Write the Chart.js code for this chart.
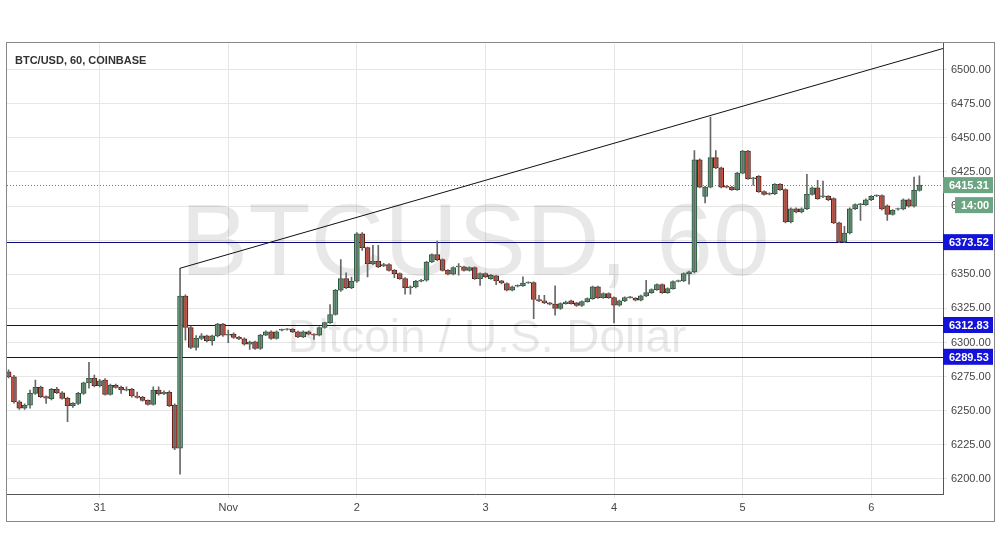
<!DOCTYPE html>
<html>
<head>
<meta charset="utf-8">
<script src="https://cdn.jsdelivr.net/npm/chart.js@4.4.1/dist/chart.umd.min.js"></script>
<style>
  body { margin: 0; background: #fff; }
  #wrap { position: absolute; left: 7px; top: 33px; width: 987px; height: 488px; }
  #frame { position: absolute; left: 6px; top: 42px; width: 987px; height: 478px; border: 1px solid #888; }
</style>
</head>
<body>
<div id="frame"></div>
<div id="wrap"><canvas id="btcChart"></canvas></div>
<script>
// hourly candles, index 0 = Oct 30 07:00
var opens = [6278.6,6274.9,6256.6,6251.8,6254,6262.7,6267.1,6260.3,6258.8,6265.7,6263.2,6259.1,6253.7,6255.4,6262.7,6270.5,6273.7,6268.4,6272.5,6262,
  6268.6,6267.1,6265,6265.7,6260.8,6259.8,6257.6,6254.7,6265.2,6262.3,6263.5,6254.2,6222.5,6334,6311,6296.4,6303,6304.9,6301.3,6304.9,
  6313.5,6305.4,6306.2,6303.7,6302.7,6298.8,6300.5,6295.6,6305.4,6307.8,6302.9,6309,6309.5,6309.7,6307.8,6304.1,6307.8,6306.1,6305.4,6311,
  6314.6,6320.5,6338.3,6346.8,6340.2,6344.9,6379.7,6369.5,6357.8,6359.5,6356.1,6357.1,6352.9,6350.5,6346.8,6340.2,6340.7,6344.9,6345.6,6359,
  6364.4,6360.7,6352.9,6350,6355.4,6355.4,6352.9,6354.9,6346.8,6350.5,6346.8,6348.8,6345.1,6343.2,6338.3,6341.3,6341.5,6343.6,6343.9,6331.5,
  6330.5,6329,6328.1,6324.9,6328.5,6330.5,6329,6327.1,6330,6332.2,6340.7,6332.9,6335.8,6332.9,6327.3,6330.5,6332.9,6332.4,6331,6334.2,
  6336.6,6338.8,6342.4,6336.6,6339.5,6344.8,6345.1,6350.5,6351.7,6433.9,6407.1,6413.9,6435.4,6428,6414.2,6413.9,6412,6424.1,6440.2,6420,
  6421.7,6410.5,6408.7,6409,6415.9,6412,6388.3,6398,6395.6,6398,6408.5,6413.4,6406.8,6407.1,6405.4,6387.6,6373.7,6380.2,6398,6401,
  6401,6404.6,6407.4,6407.6,6400.2,6393.9,6397.6,6397.8,6404.6,6399.8,6411.5];
var highs = [6280,6276,6257.5,6255,6265.2,6272.5,6268,6261,6266.5,6267.1,6264,6260,6256,6263.5,6271,6285.4,6276.2,6273,6273.5,6269.5,
  6269.5,6268,6267.6,6266.5,6263.7,6260.5,6258,6267.6,6267.6,6264.5,6264.5,6255,6354.4,6335,6312,6305,6306.6,6305.5,6305.5,6314,
  6314,6309.1,6307,6304.5,6303.5,6301,6301,6306,6308.5,6308.5,6308.5,6309.8,6310.2,6310.2,6308.3,6308.5,6308.5,6306.6,6311.5,6315,
  6327.8,6339,6360.7,6351,6348,6380.5,6380.5,6370,6371.2,6371.2,6358,6357.8,6353.5,6351,6347.5,6341.5,6345.5,6346.2,6359.5,6365,
  6374.4,6361.3,6353.5,6355.5,6357.8,6356,6355.5,6355.5,6351,6351,6350,6349.3,6345.6,6343.8,6341.3,6342.2,6348.1,6344.5,6344.5,6334.6,
  6334.6,6329.5,6341.5,6329,6330.3,6331,6329.5,6330.5,6332.8,6341.3,6341.3,6336.4,6336.4,6333.5,6331,6333.5,6333.8,6333,6334.8,6345.6,
  6339.4,6343,6343,6340.1,6345.2,6345.7,6351.1,6352.3,6440.7,6434.5,6414.5,6465.1,6440.7,6428.6,6415,6414.5,6424.7,6440.8,6440.8,6421.1,
  6422.3,6411.1,6409.6,6416.5,6416.5,6412.6,6398.6,6398.6,6398.6,6423.2,6414,6418.8,6418.3,6407.7,6406,6388.2,6385.1,6398.6,6401.6,6401.9,
  6405.2,6407.7,6408.2,6408.2,6400.8,6397.4,6398.4,6405.2,6405.2,6421.2,6422.2];
var lows = [6274,6255.5,6251,6251,6251.8,6262,6259.5,6255.4,6258,6262.5,6258.5,6242,6252.5,6254.5,6262,6266.5,6267.5,6267.5,6261.5,6261.5,
  6266.5,6262.7,6264.5,6260,6259.3,6257,6254,6254,6261.5,6261.8,6253,6221.5,6203.5,6301.8,6295.5,6294.4,6302,6300.5,6298.1,6304,
  6304.5,6299.8,6303,6302,6298,6295,6295,6295,6305,6302.2,6302.5,6308.5,6309,6307.2,6303.5,6303.5,6305.5,6302.2,6304.8,6310.5,
  6314,6320,6337.5,6339.5,6339.5,6344,6367.5,6348,6357,6354.8,6355.5,6352.3,6347.5,6346.2,6335.4,6335.4,6340,6344.3,6345,6358.5,
  6360,6352.3,6349.5,6349.5,6349.3,6352.3,6352.3,6346.2,6341.9,6347.5,6346.2,6342.4,6343,6337.8,6337.8,6340.8,6341,6343.2,6317.5,6330,
  6328.5,6327.6,6320,6324.3,6328,6328,6326.5,6326.5,6329.5,6331.6,6332.3,6332.3,6332.3,6314.4,6326.7,6330,6332.4,6330.4,6330.4,6333.6,
  6336,6338.2,6336,6336,6339,6344.3,6344.5,6342.7,6351,6413.3,6402.2,6413.3,6427.4,6413.3,6413.3,6411.4,6411.4,6423.5,6419.4,6415.1,
  6409.9,6407.9,6408.1,6408.4,6411.4,6387.7,6387.7,6395,6395,6397.4,6407.9,6404.8,6406.2,6404,6387,6373.1,6373.1,6379.6,6397.4,6389.5,
  6400.4,6404,6406.8,6397.2,6389.5,6393.3,6397,6397.2,6399.2,6399.2,6410.9];
var closes = [6274.9,6256.6,6251.8,6254,6262.7,6267.1,6260.3,6259.3,6265.7,6263.2,6259.1,6253.7,6255.4,6262.7,6270.5,6273.7,6268.4,6272,6262,6268.6,
  6267.1,6265.2,6265.4,6260.8,6259.8,6257.6,6254.7,6265.2,6262.3,6263.5,6253.7,6222.5,6334,6311,6296.4,6303,6304.9,6301.3,6304.9,6313.5,
  6305.4,6305.9,6303.7,6302.7,6298.8,6300.3,6295.6,6305.4,6307.8,6302.9,6307.8,6309.3,6309.8,6307.8,6304.1,6307.8,6306.1,6305.4,6311,6314.6,
  6320.5,6338.3,6346.8,6340.2,6344.9,6379.7,6369.5,6357.8,6359.5,6355.4,6357.1,6352.9,6350.5,6346.8,6340.2,6340.7,6344.9,6345.6,6359,6364.4,
  6360.7,6352.9,6350,6354.9,6355.6,6352.9,6354.9,6346.8,6350.5,6348,6349.3,6345.1,6343.6,6338.3,6340.7,6341.7,6343.6,6343.9,6331.5,6330.5,
  6329,6328.1,6324.9,6328.5,6329.7,6328.5,6327.1,6330,6332.2,6340.7,6332.9,6335.8,6332.9,6327.3,6330.5,6332.9,6333.2,6331,6334.2,6336.6,
  6338.8,6342.4,6336.6,6339.5,6344.6,6345.1,6350.5,6351.7,6433.9,6413.9,6413.9,6435.4,6428,6413.9,6413.9,6412,6424.1,6440.2,6420,6420.5,
  6410.5,6408.5,6409,6415.9,6412,6388.3,6398,6395.6,6398,6408.5,6413.4,6405.4,6407.1,6404.6,6387.6,6373.7,6380.2,6398,6401,6401.3,
  6404.6,6407.1,6407.6,6397.8,6393.9,6396.8,6397.8,6404.6,6399.8,6411.5,6415.31];

var dayTicks = [17, 41, 65, 89, 113, 137, 161];
var dayLabels = ["31", "Nov", "2", "3", "4", "5", "6"];
var priceTicks = [6200, 6225, 6250, 6275, 6300, 6325, 6350, 6375, 6400, 6425, 6450, 6475, 6500];
var levels = [6373.52, 6312.83, 6289.53];
var lastPrice = 6415.31;
var countdown = "14:00";
// trend line: from the Oct 31 spike high up to the right edge
var trendX = [32, 174.4];
var trendY = [6354.4, 6515.4];

var upFill = '#6ba583', downFill = '#d75442';
var upLine = '#225437', downLine = '#5b1a13';
var font = '"Liberation Sans", Arial, sans-serif';

var wicks = [], bodies = [], fills = [], borders = [];
for (var i = 0; i < opens.length; i++) {
    var up = closes[i] >= opens[i];
    wicks.push({ x: i, y: [lows[i], highs[i]] });
    var lo = Math.min(opens[i], closes[i]), hi = Math.max(opens[i], closes[i]);
    if (hi - lo < 0.6) hi = lo + 0.6;
    bodies.push({ x: i, y: [lo, hi] });
    fills.push(up ? upFill : downFill);
    borders.push(up ? upLine : downLine);
}

var overlay = {
    id: 'overlay',
    beforeDatasetsDraw: function (chart) {
        var c = chart.ctx, a = chart.chartArea;
        c.save();
        c.beginPath(); c.rect(a.left, a.top, a.right - a.left, a.bottom - a.top); c.clip();
        c.fillStyle = 'rgba(0,0,0,0.09)';
        c.textAlign = 'center'; c.textBaseline = 'middle';
        c.font = '102px ' + font;
        c.fillText('BTCUSD, 60', 468, 214);
        c.font = '46px ' + font;
        c.fillText('Bitcoin / U.S. Dollar', 480, 306);
        var y = chart.scales.y;
        c.strokeStyle = '#0a0a7a'; c.lineWidth = 1;
        levels.forEach(function (v) {
            var py = Math.round(y.getPixelForValue(v)) + 0.5;
            c.beginPath(); c.moveTo(a.left, py); c.lineTo(a.right, py); c.stroke();
        });
        var lp = Math.round(y.getPixelForValue(lastPrice)) + 0.5;
        c.strokeStyle = '#4e8f6c'; c.setLineDash([1, 2]);
        c.beginPath(); c.moveTo(a.left, lp); c.lineTo(a.right, lp); c.stroke();
        c.restore();
    },
    afterDraw: function (chart) {
        var c = chart.ctx, a = chart.chartArea, x = chart.scales.x, y = chart.scales.y;
        c.save();
        c.beginPath(); c.rect(a.left, a.top, a.right - a.left, a.bottom - a.top); c.clip();
        c.strokeStyle = '#111'; c.lineWidth = 1;
        c.beginPath();
        c.moveTo(x.getPixelForValue(trendX[0]), y.getPixelForValue(trendY[0]));
        c.lineTo(x.getPixelForValue(trendX[1]), y.getPixelForValue(trendY[1]));
        c.stroke();
        c.restore();

        c.save();
        c.font = 'bold 11px ' + font;
        c.textBaseline = 'middle'; c.textAlign = 'left';
        c.fillStyle = '#333';
        c.fillText('BTC/USD, 60, COINBASE', 8, a.top + 17);
        function box(v, bg, txt, dy, left) {
            var py = y.getPixelForValue(v) + (dy || 0);
            var l = a.right + (left || 0);
            c.fillStyle = bg;
            c.fillRect(l, py - 8, 986 - l, 16);
            c.fillStyle = '#fff';
            c.fillText(txt, l + 6, py + 1);
        }
        levels.forEach(function (v) { box(v, '#1212d8', v.toFixed(2)); });
        box(lastPrice, upFill, lastPrice.toFixed(2));
        box(lastPrice, upFill, countdown, 20, 12);
        c.restore();
    }
};

new Chart(document.getElementById('btcChart'), {
    type: 'bar',
    data: {
        datasets: [{
            data: wicks,
            backgroundColor: '#666',
            barThickness: 1,
            grouped: false
        }, {
            data: bodies,
            backgroundColor: fills,
            borderColor: borders,
            borderWidth: 1,
            borderSkipped: false,
            barThickness: 5,
            grouped: false
        }]
    },
    options: {
        responsive: true,
        maintainAspectRatio: false,
        animation: false,
        plugins: { legend: { display: false }, tooltip: { enabled: false } },
        scales: {
            x: {
                type: 'linear',
                offset: false,
                min: -0.3,
                max: 174.4,
                afterBuildTicks: function (s) { s.ticks = dayTicks.map(function (v) { return { value: v }; }); },
                afterFit: function (s) { s.height = 27; },
                ticks: {
                    color: '#444',
                    font: { size: 11, family: font },
                    callback: function (v) { return dayLabels[dayTicks.indexOf(v)]; },
                    maxRotation: 0
                },
                grid: { color: '#e6e6e6', offset: false, tickLength: 4 },
                border: { color: '#555' }
            },
            y: {
                position: 'right',
                min: 6189,
                max: 6519,
                afterBuildTicks: function (s) { s.ticks = priceTicks.map(function (v) { return { value: v }; }); },
                afterFit: function (s) { s.width = 51; },
                ticks: {
                    color: '#444',
                    padding: 4,
                    font: { size: 11, family: font },
                    callback: function (v) { return v.toFixed(2); }
                },
                grid: { color: '#e6e6e6', tickLength: 4 },
                border: { color: '#555' }
            }
        }
    },
    plugins: [overlay]
});
</script>
</body>
</html>
